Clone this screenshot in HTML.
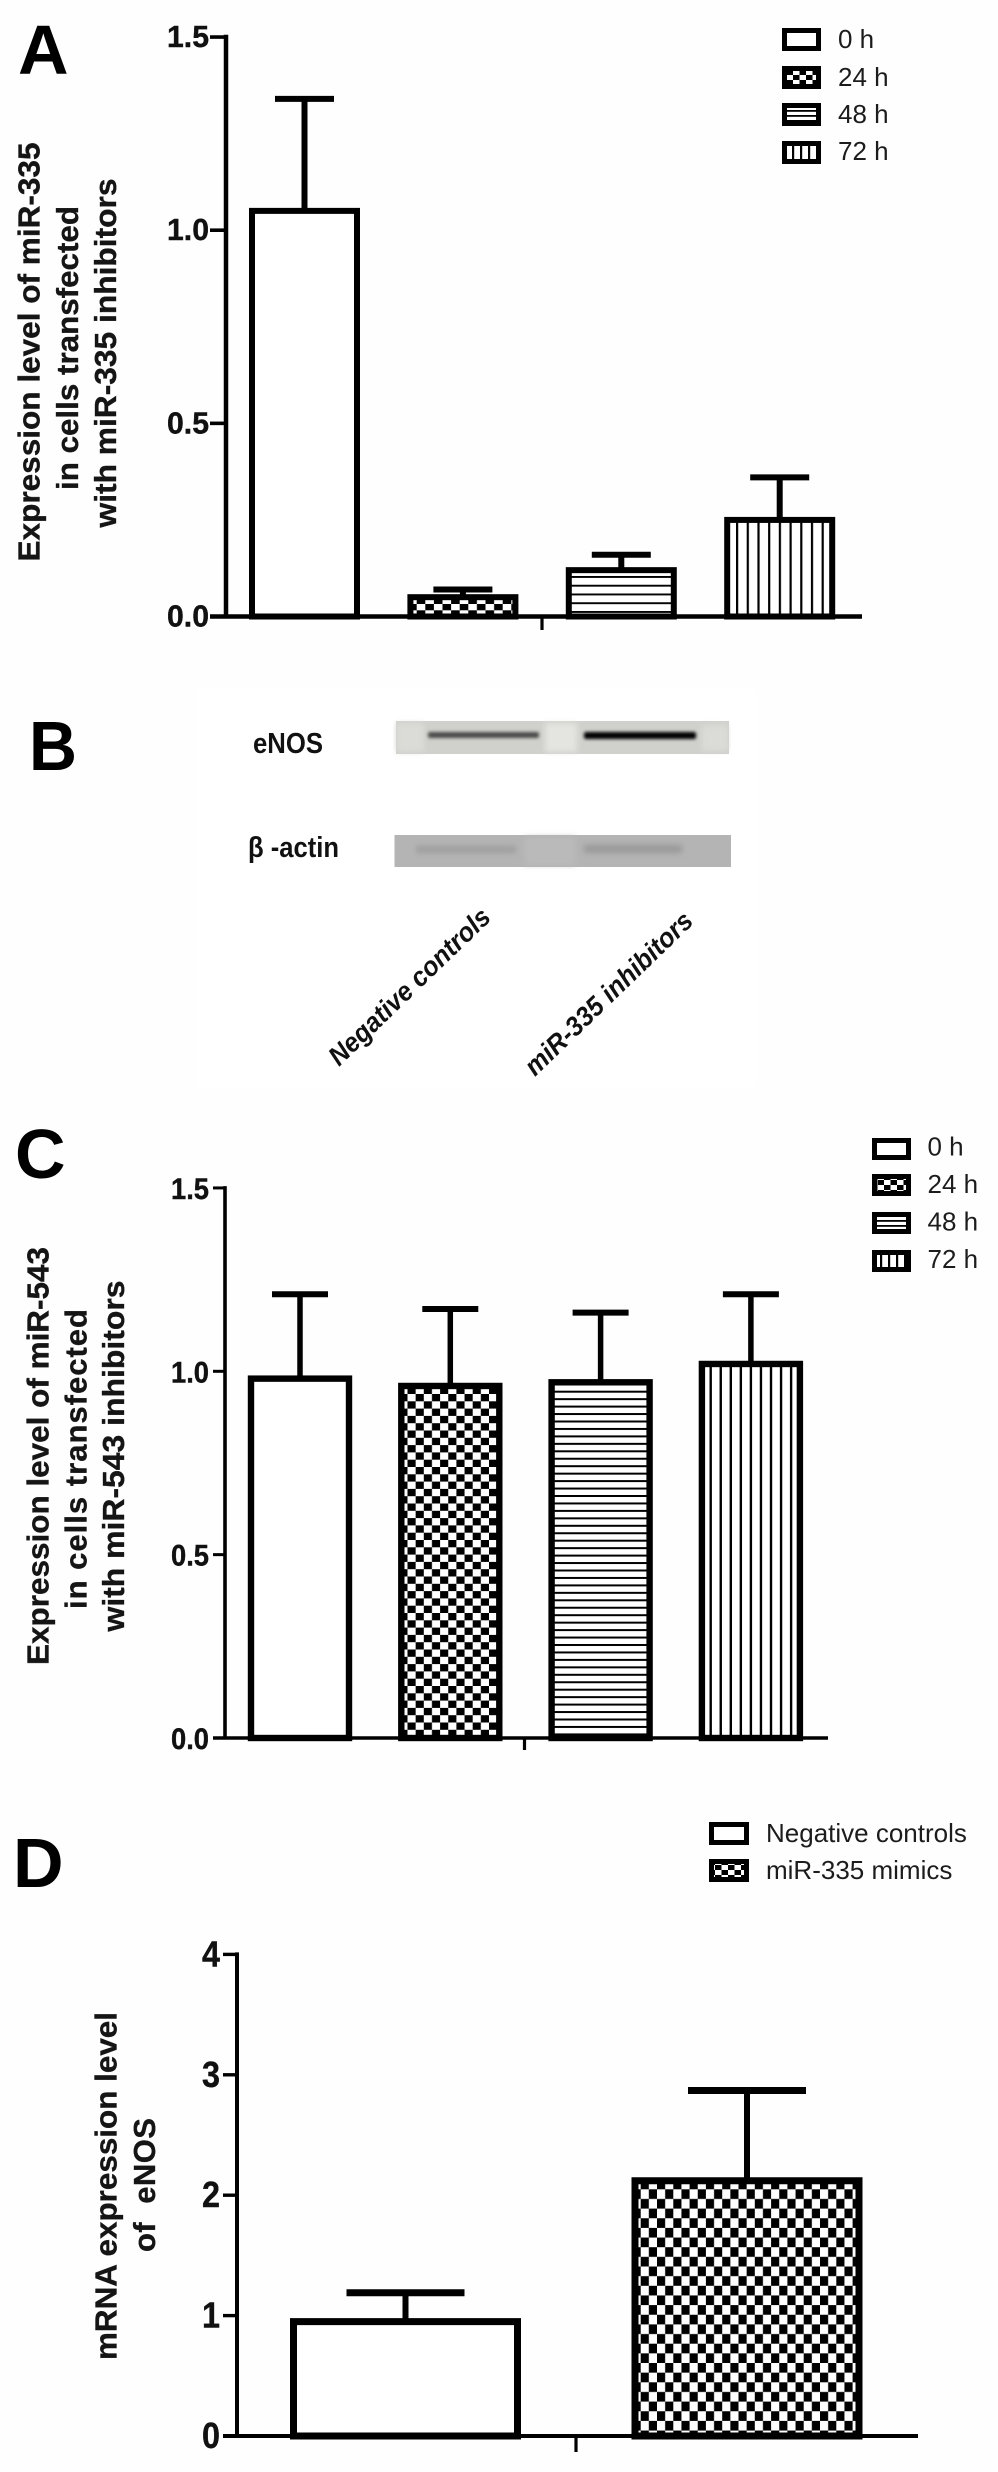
<!DOCTYPE html>
<html lang="en">
<head>
<meta charset="utf-8">
<title>miR-335 and miR-543 expression figure</title>
<style>
html,body{margin:0;padding:0;background:#fefefe;}
svg{display:block;}
text{font-family:"Liberation Sans",Arial,sans-serif;fill:#0c0c0c;}
.panel-letter{font-size:70px;font-weight:bold;fill:#000;}
.y-title{font-size:31px;font-weight:bold;text-anchor:middle;white-space:pre;fill:#151515;stroke:#151515;stroke-width:0.35px;}
.legend-text{font-size:26px;fill:#1c1c1c;white-space:pre;}
.tick-label{font-weight:bold;text-anchor:end;fill:#111;stroke:#111;stroke-width:0.4px;}
.blot-label{font-size:29px;font-weight:bold;fill:#111;}
.lane-label{font-size:27px;font-weight:bold;font-style:italic;fill:#111;}
</style>
</head>
<body>
<svg id="figure" xmlns="http://www.w3.org/2000/svg" width="998" height="2472" viewBox="0 0 998 2472">
  <defs>
    <pattern id="checkA" patternUnits="userSpaceOnUse" x="416.7" y="604" width="17.2" height="12.6">
      <rect width="17.2" height="12.6" fill="#000"/>
      <rect x="0" y="0" width="8.6" height="6.3" fill="#fff"/>
      <rect x="8.6" y="6.3" width="8.6" height="6.3" fill="#fff"/>
    </pattern>
    <pattern id="checkC" patternUnits="userSpaceOnUse" x="407.5" y="1394" width="16.3" height="14.6">
      <rect width="16.3" height="14.6" fill="#000"/>
      <rect x="0" y="0" width="8.15" height="7.3" fill="#fff"/>
      <rect x="8.15" y="7.3" width="8.15" height="7.3" fill="#fff"/>
    </pattern>
    <pattern id="checkD" patternUnits="userSpaceOnUse" x="640.7" y="2189.3" width="16.3" height="19.3">
      <rect width="16.3" height="19.3" fill="#000"/>
      <rect x="0" y="0" width="8.15" height="9.65" fill="#fff"/>
      <rect x="8.15" y="9.65" width="8.15" height="9.65" fill="#fff"/>
    </pattern>
    <pattern id="hstripeA" patternUnits="userSpaceOnUse" x="0" y="576" width="10" height="8.75">
      <rect width="10" height="8.75" fill="#fff"/>
      <rect width="10" height="1.9" fill="#000"/>
    </pattern>
    <pattern id="hstripeC" patternUnits="userSpaceOnUse" x="0" y="1390.7" width="10" height="7.45">
      <rect width="10" height="7.45" fill="#fff"/>
      <rect width="10" height="2" fill="#000"/>
    </pattern>
    <pattern id="vstripeA" patternUnits="userSpaceOnUse" x="736" y="0" width="10.7" height="10">
      <rect width="10.7" height="10" fill="#fff"/>
      <rect width="2.2" height="10" fill="#000"/>
    </pattern>
    <pattern id="vstripeC" patternUnits="userSpaceOnUse" x="709.5" y="0" width="10.05" height="10">
      <rect width="10.05" height="10" fill="#fff"/>
      <rect width="2.4" height="10" fill="#000"/>
    </pattern>
    <pattern id="lgCheck" patternUnits="userSpaceOnUse" width="13" height="10">
      <rect width="13" height="10" fill="#000"/>
      <rect x="0" y="0" width="6.5" height="5" fill="#fff"/>
      <rect x="6.5" y="5" width="6.5" height="5" fill="#fff"/>
    </pattern>
    <pattern id="lgHoriz" patternUnits="userSpaceOnUse" width="10" height="5">
      <rect width="10" height="5" fill="#fff"/>
      <rect width="10" height="1.8" fill="#000"/>
    </pattern>
    <pattern id="lgVert" patternUnits="userSpaceOnUse" width="8" height="10">
      <rect width="8" height="10" fill="#fff"/>
      <rect width="2.2" height="10" fill="#000"/>
    </pattern>
    <filter id="blur1" x="-10%" y="-100%" width="120%" height="300%"><feGaussianBlur stdDeviation="1.6"/></filter>
    <filter id="blur3" x="-10%" y="-100%" width="120%" height="300%"><feGaussianBlur stdDeviation="3"/></filter>
  </defs>

  <rect x="0" y="0" width="998" height="2472" fill="#fefefe"/>
  <rect x="197" y="689" width="560" height="398" fill="#ffffff"/>

  <!-- Panel A -->
  <g id="panelA">
    <text class="panel-letter" x="18" y="74">A</text>
    <text class="y-title" transform="translate(39.5 352) rotate(-90)" textLength="419" lengthAdjust="spacingAndGlyphs">Expression level of miR-335</text>
    <text class="y-title" transform="translate(78 348) rotate(-90)" textLength="284" lengthAdjust="spacingAndGlyphs">in cells transfected</text>
    <text class="y-title" transform="translate(116 353) rotate(-90)" textLength="349" lengthAdjust="spacingAndGlyphs">with miR-335 inhibitors</text>
    <g>
      <rect x="784.5" y="30.5" width="34" height="18" fill="#fff" stroke="#000" stroke-width="5"/>
      <text class="legend-text" x="838" y="48">0 h</text>
      <rect x="784.5" y="68.5" width="34" height="18" fill="url(#lgCheck)" stroke="#000" stroke-width="5"/>
      <text class="legend-text" x="838" y="86">24 h</text>
      <rect x="784.5" y="105.5" width="34" height="18" fill="url(#lgHoriz)" stroke="#000" stroke-width="5"/>
      <text class="legend-text" x="838" y="123">48 h</text>
      <rect x="784.5" y="143.5" width="34" height="18" fill="url(#lgVert)" stroke="#000" stroke-width="5"/>
      <text class="legend-text" x="838" y="160">72 h</text>
    </g>
  </g>

  <!-- Panel B -->
  <g id="panelB">
    <text class="panel-letter" x="29" y="770" textLength="48" lengthAdjust="spacingAndGlyphs">B</text>
    <text class="blot-label" x="253" y="753" textLength="70" lengthAdjust="spacingAndGlyphs">eNOS</text>
    <text class="blot-label" x="248" y="857" textLength="91" lengthAdjust="spacingAndGlyphs">β -actin</text>
    <g>
      <rect x="396" y="721" width="333" height="33" fill="#d0d0cc"/>
      <rect x="396" y="723" width="28" height="29" fill="#dbdbd7" filter="url(#blur3)"/>
      <rect x="545" y="723" width="32" height="29" fill="#e4e4e0" filter="url(#blur3)"/>
      <rect x="702" y="725" width="26" height="26" fill="#dbdbd7" filter="url(#blur3)"/>
      <rect x="428" y="732" width="111" height="6" rx="2" fill="#4c4c48" filter="url(#blur1)"/>
      <rect x="584" y="732" width="112" height="7" rx="2" fill="#050505" filter="url(#blur1)"/>
    </g>
    <g>
      <rect x="394.5" y="835" width="336.5" height="32" fill="#b4b4b4"/>
      <rect x="525" y="837" width="50" height="28" fill="#bababa" filter="url(#blur3)"/>
      <rect x="416" y="846" width="100" height="7" fill="#9e9e9e" filter="url(#blur3)"/>
      <rect x="584" y="845" width="98" height="8" fill="#999" filter="url(#blur3)"/>
    </g>
    <text class="lane-label" transform="translate(339 1067) rotate(-44)" textLength="213" lengthAdjust="spacingAndGlyphs">Negative controls</text>
    <text class="lane-label" transform="translate(535 1077) rotate(-44)" textLength="222" lengthAdjust="spacingAndGlyphs">miR-335 inhibitors</text>
  </g>

  <!-- Panel C -->
  <g id="panelC">
    <text class="panel-letter" x="15" y="1178">C</text>
    <text class="y-title" transform="translate(48.5 1456) rotate(-90)" textLength="418" lengthAdjust="spacingAndGlyphs">Expression level of miR-543</text>
    <text class="y-title" transform="translate(86.5 1459) rotate(-90)" textLength="300" lengthAdjust="spacing">in cells transfected</text>
    <text class="y-title" transform="translate(124 1456) rotate(-90)" textLength="351" lengthAdjust="spacingAndGlyphs">with miR-543 inhibitors</text>
    <g>
      <rect x="874.5" y="1140.5" width="34" height="17" fill="#fff" stroke="#000" stroke-width="5"/>
      <text class="legend-text" x="927.5" y="1155.5">0 h</text>
      <rect x="874.5" y="1176.5" width="34" height="17" fill="url(#lgCheck)" stroke="#000" stroke-width="5"/>
      <text class="legend-text" x="927.5" y="1193">24 h</text>
      <rect x="874.5" y="1214.5" width="34" height="17" fill="url(#lgHoriz)" stroke="#000" stroke-width="5"/>
      <text class="legend-text" x="927.5" y="1230.5">48 h</text>
      <rect x="874.5" y="1252.5" width="34" height="17" fill="url(#lgVert)" stroke="#000" stroke-width="5"/>
      <text class="legend-text" x="927.5" y="1268">72 h</text>
    </g>
  </g>

  <!-- Panel D -->
  <g id="panelD">
    <text class="panel-letter" x="13" y="1887">D</text>
    <text class="y-title" transform="translate(116.5 2186) rotate(-90)" textLength="348" lengthAdjust="spacingAndGlyphs">mRNA expression level</text>
    <text class="y-title" transform="translate(155 2185) rotate(-90)" textLength="134" lengthAdjust="spacing">of  eNOS</text>
    <g>
      <rect x="711.5" y="1824.5" width="35" height="18" fill="#fff" stroke="#000" stroke-width="5"/>
      <text class="legend-text" x="766" y="1842">Negative controls</text>
      <rect x="711.5" y="1861.5" width="35" height="18" fill="url(#lgCheck)" stroke="#000" stroke-width="5"/>
      <text class="legend-text" x="766" y="1879">miR-335 mimics</text>
    </g>
  </g>
</svg>

<script>
var panelACategories = ['0 h', '24 h', '48 h', '72 h'];
var panelAMeans = [1.05, 0.05, 0.12, 0.25];
var panelAErrorTops = [1.34, 0.07, 0.16, 0.36];
var panelATicks = [0, 0.5, 1.0, 1.5];
var panelATickLabels = ['0.0', '0.5', '1.0', '1.5'];

var panelCCategories = ['0 h', '24 h', '48 h', '72 h'];
var panelCMeans = [0.98, 0.96, 0.97, 1.02];
var panelCErrorTops = [1.21, 1.17, 1.16, 1.21];
var panelCTicks = [0, 0.5, 1.0, 1.5];
var panelCTickLabels = ['0.0', '0.5', '1.0', '1.5'];

var panelDCategories = ['Negative controls', 'miR-335 mimics'];
var panelDMeans = [0.95, 2.12];
var panelDErrorTops = [1.19, 2.87];
var panelDTicks = [0, 1, 2, 3, 4];
var panelDTickLabels = ['0', '1', '2', '3', '4'];

var SVG_NS = 'http://www.w3.org/2000/svg';

function makeEl(parent, tag, attrs) {
  var el = document.createElementNS(SVG_NS, tag);
  for (var key in attrs) {
    el.setAttribute(key, attrs[key]);
  }
  parent.appendChild(el);
  return el;
}

function drawChart(parent, categories, means, errorTops, ticks, tickLabels, fills, geo) {
  function yScale(v) {
    return geo.y0 - v * geo.unit;
  }
  function xScale(i) {
    return geo.x0 + i * geo.step;
  }
  var topValue = ticks[ticks.length - 1];

  categories.forEach(function (cat, i) {
    var cx = xScale(i);
    var stem = makeEl(parent, 'line', {
      x1: cx, x2: cx, y1: yScale(errorTops[i]), y2: yScale(means[i]),
      stroke: '#000', 'stroke-width': geo.stemW
    });
    
    

    var cap = makeEl(parent, 'line', {
      x1: cx - geo.capW / 2, x2: cx + geo.capW / 2,
      y1: yScale(errorTops[i]), y2: yScale(errorTops[i]),
      stroke: '#000', 'stroke-width': geo.capH
    });
    
    

    var bar = makeEl(parent, 'rect', {
      x: cx - geo.barW / 2, y: yScale(means[i]),
      width: geo.barW, height: geo.y0 - yScale(means[i]),
      fill: fills[i], stroke: '#000', 'stroke-width': geo.barStroke
    });
    
    
    bar.setAttribute('aria-label', cat);
  });

  var yAxis = makeEl(parent, 'line', {
    x1: geo.axisX, x2: geo.axisX, y1: yScale(topValue) - geo.axisW / 2, y2: geo.y0,
    stroke: '#000', 'stroke-width': geo.axisW
  });
  
  

  var xAxis = makeEl(parent, 'line', {
    x1: geo.tickLeft, x2: geo.axisRight, y1: geo.y0, y2: geo.y0,
    stroke: '#000', 'stroke-width': geo.axisW
  });
  
  

  var xTick = makeEl(parent, 'line', {
    x1: geo.xTick, x2: geo.xTick, y1: geo.y0, y2: geo.xTickEnd,
    stroke: '#000', 'stroke-width': 3.2
  });
  
  

  ticks.forEach(function (t, i) {
    var tick = makeEl(parent, 'line', {
      x1: geo.tickLeft, x2: geo.axisX, y1: yScale(t), y2: yScale(t),
      stroke: '#000', 'stroke-width': geo.tickW
    });
    
    

    var label = makeEl(parent, 'text', {
      'class': 'tick-label', x: geo.labelX, y: yScale(t) + geo.labelDy,
      'font-size': geo.labelSize,
      textLength: geo.labelLen, lengthAdjust: 'spacingAndGlyphs'
    });
    
    
    label.textContent = tickLabels[i];
  });
}

drawChart(document.getElementById('panelA'),
  panelACategories, panelAMeans, panelAErrorTops, panelATicks, panelATickLabels,
  ['#fff', 'url(#checkA)', 'url(#hstripeA)', 'url(#vstripeA)'],
  { x0: 304.5, step: 158.4, barW: 105, barStroke: 6, capW: 59, capH: 6, stemW: 6,
    y0: 616.5, unit: 386.3, axisX: 226, axisW: 4.5, tickW: 3.6, tickLeft: 210, axisRight: 862,
    xTick: 542, xTickEnd: 630, labelX: 209, labelDy: 10, labelSize: 31, labelLen: 42 });

drawChart(document.getElementById('panelC'),
  panelCCategories, panelCMeans, panelCErrorTops, panelCTicks, panelCTickLabels,
  ['#fff', 'url(#checkC)', 'url(#hstripeC)', 'url(#vstripeC)'],
  { x0: 300, step: 150.3, barW: 98, barStroke: 6.4, capW: 56, capH: 6, stemW: 5.5,
    y0: 1738, unit: 366.7, axisX: 225, axisW: 3.6, tickW: 3, tickLeft: 213, axisRight: 828,
    xTick: 524.5, xTickEnd: 1750, labelX: 209, labelDy: 11, labelSize: 30, labelLen: 38 });

drawChart(document.getElementById('panelD'),
  panelDCategories, panelDMeans, panelDErrorTops, panelDTicks, panelDTickLabels,
  ['#fff', 'url(#checkD)'],
  { x0: 405.5, step: 341.5, barW: 224, barStroke: 7, capW: 118, capH: 7, stemW: 6,
    y0: 2436, unit: 120.4, axisX: 237, axisW: 4, tickW: 3.4, tickLeft: 223, axisRight: 918,
    xTick: 576, xTickEnd: 2452, labelX: 220, labelDy: 12, labelSize: 36, labelLen: 18 });
</script>
</body>
</html>
